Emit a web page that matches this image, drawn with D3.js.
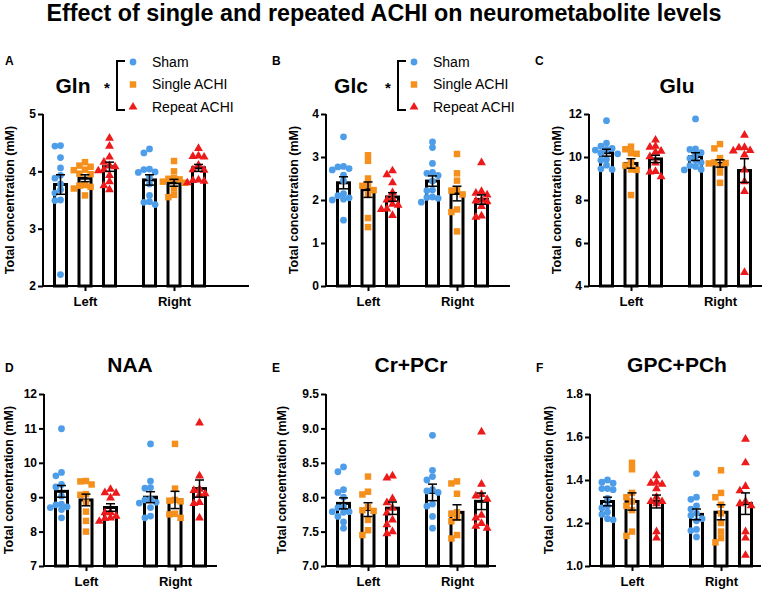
<!DOCTYPE html>
<html>
<head>
<meta charset="utf-8">
<script src="https://cdn.jsdelivr.net/npm/d3@7"></script>
<style>
  body { margin: 0; background: #fff; }
  svg { display: block; font-family: "Liberation Sans", Arial, sans-serif; }
</style>
</head>
<body>
<svg id="chart" width="767" height="591"></svg>
<script>
// categories
const regions = ["Left", "Right"];
const groups = ["Sham", "Single ACHI", "Repeat ACHI"];
const groupColors = ["#4d9de9", "#f5901c", "#ec1a1a"];

// order of every array: Left Sham, Left Single, Left Repeat, Right Sham, Right Single, Right Repeat
const glnMean = [3.77, 3.88, 4.08, 3.85, 3.80, 4.06];
const glnSem = [0.17, 0.06, 0.08, 0.09, 0.06, 0.06];
const glnPoints = [
  [4.45, 4.44, 4.24, 4.06, 3.93, 3.88, 3.78, 3.68, 3.62, 3.50, 3.49, 2.20],
  [4.16, 4.10, 4.08, 4.03, 4.02, 3.96, 3.95, 3.76, 3.75, 3.73, 3.70, 3.58],
  [4.58, 4.44, 4.25, 4.16, 4.10, 4.08, 4.03, 4.01, 3.93, 3.82, 3.75, 3.68],
  [4.39, 4.32, 4.04, 4.03, 3.99, 3.98, 3.90, 3.78, 3.58, 3.47, 3.46, 3.42],
  [4.18, 4.00, 3.88, 3.87, 3.86, 3.82, 3.80, 3.70, 3.59, 3.55],
  [4.40, 4.27, 4.26, 4.25, 4.11, 4.03, 4.02, 3.85, 3.84, 3.83, 3.80]
];
const glnTicks = [2, 3, 4, 5];

const glcMean = [2.40, 2.24, 2.07, 2.44, 2.15, 2.01];
const glcSem = [0.14, 0.18, 0.10, 0.12, 0.17, 0.11];
const glcPoints = [
  [3.47, 2.78, 2.77, 2.73, 2.70, 2.58, 2.45, 2.15, 2.10, 2.05, 2.02, 2.00, 1.53],
  [3.04, 2.91, 2.50, 2.35, 2.33, 2.23, 2.13, 1.58, 1.37],
  [2.68, 2.59, 2.40, 2.17, 2.03, 2.00, 1.90, 1.88, 1.79, 1.78, 1.64],
  [3.35, 3.22, 2.85, 2.64, 2.62, 2.57, 2.44, 2.23, 2.22, 2.07, 2.06, 2.04, 1.95],
  [3.07, 2.62, 2.45, 2.25, 2.22, 2.13, 1.78, 1.72, 1.27],
  [2.87, 2.20, 2.16, 2.12, 2.00, 1.98, 1.96, 1.85, 1.63, 1.60]
];
const glcTicks = [0, 1, 2, 3, 4];

const gluMean = [10.20, 9.70, 9.91, 10.02, 9.70, 9.37];
const gluSem = [0.16, 0.22, 0.17, 0.18, 0.17, 0.55];
const gluPoints = [
  [11.69, 10.65, 10.50, 10.40, 10.35, 10.32, 10.18, 10.15, 9.90, 9.85, 9.62, 9.45, 9.42],
  [10.48, 10.36, 10.18, 10.15, 9.74, 9.60, 9.42, 9.40, 8.23],
  [10.79, 10.50, 10.46, 10.27, 10.22, 10.02, 9.72, 9.33, 9.30, 9.08],
  [11.77, 10.38, 10.35, 10.20, 10.12, 9.94, 9.85, 9.74, 9.60, 9.56, 9.42, 9.40],
  [10.60, 10.40, 9.95, 9.75, 9.72, 9.70, 9.56, 9.28, 8.80],
  [11.02, 10.45, 10.43, 10.30, 10.28, 10.10, 9.40, 8.85, 8.40, 4.63]
];
const gluTicks = [4, 6, 8, 10, 12];

const naaMean = [9.17, 8.92, 8.70, 9.00, 8.92, 9.25];
const naaSem = [0.17, 0.17, 0.11, 0.16, 0.25, 0.25];
const naaPoints = [
  [10.99, 9.72, 9.62, 9.37, 9.30, 9.03, 8.80, 8.78, 8.72, 8.70, 8.64, 8.40],
  [9.47, 9.46, 9.37, 9.09, 9.07, 8.84, 8.58, 8.31, 8.00],
  [9.23, 9.13, 9.12, 8.98, 8.56, 8.55, 8.45, 8.40, 8.38, 8.30],
  [10.55, 9.47, 9.28, 9.26, 8.94, 8.92, 8.85, 8.83, 8.70, 8.45, 8.40],
  [10.55, 9.25, 8.92, 8.90, 8.88, 8.52, 8.50, 8.40],
  [11.16, 9.62, 9.23, 9.20, 9.10, 9.07, 8.85, 8.82, 8.40]
];
const naaTicks = [7, 8, 9, 10, 11, 12];

const crMean = [7.91, 7.82, 7.84, 8.07, 7.78, 7.94];
const crSem = [0.08, 0.10, 0.09, 0.12, 0.11, 0.12];
const crPoints = [
  [8.44, 8.37, 8.11, 8.07, 8.00, 7.86, 7.85, 7.79, 7.79, 7.78, 7.72, 7.64, 7.55],
  [8.30, 8.08, 8.04, 7.86, 7.81, 7.80, 7.67, 7.52, 7.45],
  [8.31, 8.28, 7.98, 7.92, 7.84, 7.77, 7.67, 7.60, 7.50, 7.47],
  [8.90, 8.39, 8.30, 8.25, 8.11, 8.09, 8.07, 7.90, 7.87, 7.72, 7.55],
  [8.23, 8.20, 8.05, 7.78, 7.76, 7.70, 7.65, 7.45, 7.40],
  [8.95, 8.19, 8.04, 8.02, 7.97, 7.74, 7.70, 7.62, 7.58, 7.55]
];
const crTicks = [7.0, 7.5, 8.0, 8.5, 9.0, 9.5];

const gpcMean = [1.30, 1.30, 1.30, 1.24, 1.25, 1.29];
const gpcSem = [0.02, 0.04, 0.03, 0.025, 0.035, 0.05];
const gpcPoints = [
  [1.40, 1.39, 1.385, 1.36, 1.36, 1.355, 1.315, 1.28, 1.27, 1.25, 1.24, 1.22, 1.215],
  [1.48, 1.45, 1.34, 1.32, 1.30, 1.28, 1.26, 1.16, 1.14],
  [1.42, 1.39, 1.385, 1.38, 1.36, 1.32, 1.30, 1.30, 1.29, 1.16, 1.13],
  [1.43, 1.32, 1.31, 1.28, 1.265, 1.245, 1.235, 1.22, 1.21, 1.17, 1.165, 1.135],
  [1.445, 1.34, 1.32, 1.285, 1.245, 1.20, 1.16, 1.13, 1.11],
  [1.59, 1.48, 1.37, 1.35, 1.30, 1.29, 1.28, 1.16, 1.13, 1.05]
];
const gpcTicks = [1.0, 1.2, 1.4, 1.6, 1.8];

const yLabel = "Total concentration (mM)";
const mainTitle = "Effect of single and repeated ACHI on neurometabolite levels";

// panel placement (layout only)
const panels = [
  { letter: "A", name: "Gln", mean: glnMean, sem: glnSem, pts: glnPoints, ticks: glnTicks, fmt: "d",
    ax: 43, axEnd: 249, top: 114, bottom: 286, titleX: 73, labelX: 10, legend: { star: 107, bracket: 117, mark: 133, text: 152 } },
  { letter: "B", name: "Glc", mean: glcMean, sem: glcSem, pts: glcPoints, ticks: glcTicks, fmt: "d",
    ax: 326, axEnd: 510, top: 114, bottom: 286, titleX: 351, labelX: 294, legend: { star: 388, bracket: 398, mark: 414, text: 433 } },
  { letter: "C", name: "Glu", mean: gluMean, sem: gluSem, pts: gluPoints, ticks: gluTicks, fmt: "d",
    ax: 589, axEnd: 762, top: 114, bottom: 286, titleX: 677, labelX: 557 },
  { letter: "D", name: "NAA", mean: naaMean, sem: naaSem, pts: naaPoints, ticks: naaTicks, fmt: "d",
    ax: 44, axEnd: 217, top: 394, bottom: 566, titleX: 130, labelX: 9 },
  { letter: "E", name: "Cr+PCr", mean: crMean, sem: crSem, pts: crPoints, ticks: crTicks, fmt: ".1f",
    ax: 326, axEnd: 496, top: 394, bottom: 566, titleX: 411, labelX: 282 },
  { letter: "F", name: "GPC+PCh", mean: gpcMean, sem: gpcSem, pts: gpcPoints, ticks: gpcTicks, fmt: ".1f",
    ax: 590, axEnd: 761, top: 394, bottom: 566, titleX: 677, labelX: 549 }
];

const svg = d3.select("#chart");
svg.append("rect").attr("width", 767).attr("height", 591).attr("fill", "#fff");

svg.append("text")
  .attr("x", 384).attr("y", 21)
  .attr("text-anchor", "middle")
  .attr("font-size", 23.3).attr("font-weight", "bold")
  .text(mainTitle);

const symbolTypes = [d3.symbolCircle, d3.symbolSquare, d3.symbolTriangle];
const symbolSizes = [36, 42, 34];
const symbolPath = i => d3.symbol().type(symbolTypes[i]).size(symbolSizes[i])();

// simple deterministic beeswarm: spread points that would overlap
function swarm(values, y, step) {
  const placed = [];
  const order = values.map((v, i) => ({ v, i, y: y(v) })).sort((a, b) => a.y - b.y);
  order.forEach(p => {
    for (let k = 0; k < 12; k++) {
      const dx = k === 0 ? 0 : (k % 2 ? -1 : 1) * Math.ceil(k / 2) * step;
      const hit = placed.some(q => Math.hypot(q.dx - dx, q.y - p.y) < step * 0.98);
      if (!hit) { p.dx = dx; break; }
    }
    if (p.dx === undefined) p.dx = 0;
    placed.push(p);
  });
  return order;
}

panels.forEach(p => {
  const g = svg.append("g");
  const row1 = p.top < 200;
  const titleY = row1 ? 93 : 372;
  const letterY = row1 ? 65 : 372;

  const y = d3.scaleLinear()
    .domain([p.ticks[0], p.ticks[p.ticks.length - 1]])
    .range([p.bottom, p.top]);
  const xRegion = d3.scalePoint().domain(regions).range([p.ax + 42, p.ax + 131]);
  const xGroup = d3.scalePoint().domain(groups).range([-24.5, 24.5]);

  const cells = [];
  regions.forEach((r, ri) => groups.forEach((gr, gi) => {
    const k = ri * 3 + gi;
    cells.push({ region: r, group: gr, gi, mean: p.mean[k], sem: p.sem[k], pts: p.pts[k],
      cx: xRegion(r) + xGroup(gr) });
  }));

  // bars
  g.selectAll("rect.bar").data(cells).enter().append("rect")
    .attr("class", "bar")
    .attr("x", d => d.cx - 6)
    .attr("width", 12)
    .attr("y", d => y(d.mean))
    .attr("height", d => p.bottom - y(d.mean))
    .attr("fill", "#fff")
    .attr("stroke", "#000")
    .attr("stroke-width", 3);

  // points
  cells.forEach(c => {
    const placed = swarm(c.pts, y, 5.6);
    g.selectAll(null).data(placed).enter().append("path")
      .attr("d", symbolPath(c.gi))
      .attr("transform", d => `translate(${c.cx + d.dx},${d.y})`)
      .attr("fill", groupColors[c.gi]);
  });

  // error bars (mean ± SEM)
  const eb = g.selectAll("g.err").data(cells).enter().append("g")
    .attr("stroke", "#000").attr("stroke-width", 1.5);
  eb.append("line")
    .attr("x1", d => d.cx).attr("x2", d => d.cx)
    .attr("y1", d => y(d.mean + d.sem)).attr("y2", d => y(d.mean - d.sem));
  eb.append("line")
    .attr("x1", d => d.cx - 4.5).attr("x2", d => d.cx + 4.5)
    .attr("y1", d => y(d.mean + d.sem)).attr("y2", d => y(d.mean + d.sem));
  eb.append("line")
    .attr("x1", d => d.cx - 4.5).attr("x2", d => d.cx + 4.5)
    .attr("y1", d => y(d.mean - d.sem)).attr("y2", d => y(d.mean - d.sem));

  // y axis
  const yAxis = g.append("g")
    .attr("transform", `translate(${p.ax},0)`)
    .call(d3.axisLeft(y).tickValues(p.ticks).tickFormat(d3.format(p.fmt)).tickSize(5).tickPadding(2));
  yAxis.select(".domain").attr("stroke-width", 2).attr("d", `M0,${p.top}V${p.bottom}`);
  yAxis.selectAll(".tick line").attr("stroke-width", 2);
  yAxis.selectAll(".tick text").attr("font-size", 12).attr("font-weight", "bold")
    .attr("font-family", "Liberation Sans, Arial, sans-serif").attr("fill", "#000");

  // x axis
  const xAxis = g.append("g")
    .attr("transform", `translate(0,${p.bottom})`)
    .call(d3.axisBottom(xRegion).tickSize(5).tickPadding(6));
  xAxis.select(".domain").attr("stroke-width", 2).attr("d", `M${p.ax},0H${p.axEnd}`);
  xAxis.selectAll(".tick line").attr("stroke-width", 2);
  xAxis.selectAll(".tick text").attr("font-size", 13).attr("font-weight", "bold")
    .attr("font-family", "Liberation Sans, Arial, sans-serif").attr("fill", "#000");

  // y label
  g.append("text")
    .attr("transform", `translate(${p.labelX},${(p.top + p.bottom) / 2}) rotate(-90)`)
    .attr("text-anchor", "middle").attr("dy", "0.35em")
    .attr("font-size", 12.5).attr("font-weight", "bold")
    .text(yLabel);

  // title and panel letter
  g.append("text").attr("x", p.titleX).attr("y", titleY)
    .attr("text-anchor", "middle").attr("font-size", 21).attr("font-weight", "bold")
    .text(p.name);
  g.append("text").attr("x", p.ax < 100 ? 5 : p.ax - 54).attr("y", letterY)
    .attr("font-size", 12).attr("font-weight", "bold")
    .text(p.letter);

  // legend with significance bracket
  if (p.legend) {
    const L = p.legend;
    const ly = d3.scalePoint().domain(groups).range([62, 107]);
    g.append("path")
      .attr("d", `M${L.bracket + 8},61H${L.bracket}V110H${L.bracket + 8}`)
      .attr("fill", "none").attr("stroke", "#000").attr("stroke-width", 2);
    g.append("text").attr("x", L.star).attr("y", 93)
      .attr("text-anchor", "middle").attr("font-size", 15).attr("font-weight", "bold")
      .text("*");
    groups.forEach((gr, gi) => {
      g.append("path").attr("d", symbolPath(gi))
        .attr("transform", `translate(${L.mark},${ly(gr)})`)
        .attr("fill", groupColors[gi]);
      g.append("text").attr("x", L.text).attr("y", ly(gr)).attr("dy", "0.35em")
        .attr("font-size", 14).text(gr);
    });
  }
});
</script>
</body>
</html>
